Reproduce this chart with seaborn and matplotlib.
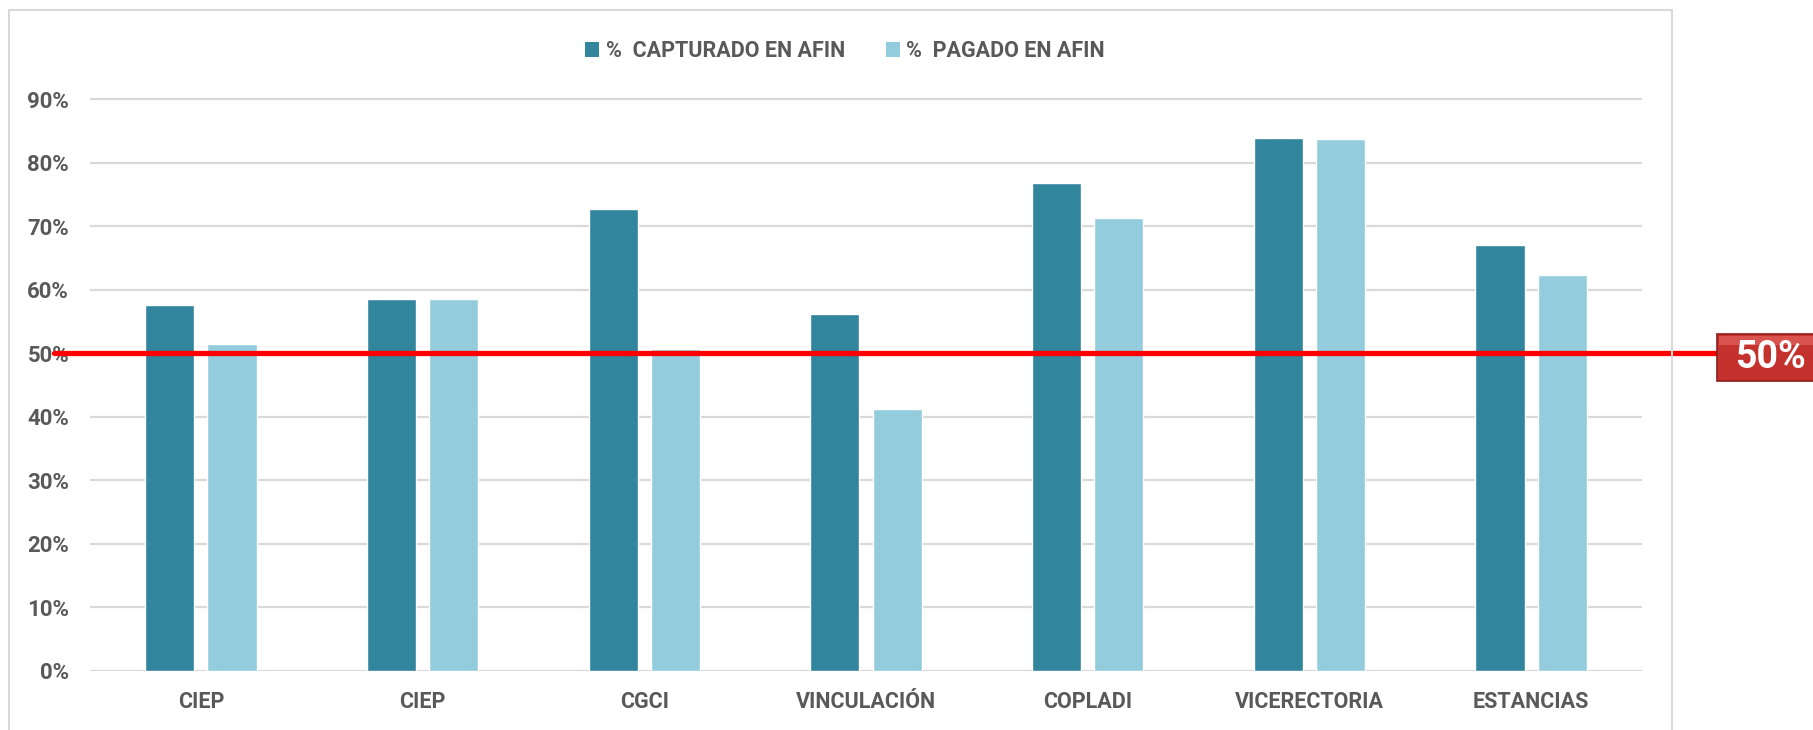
import numpy as np
import pandas as pd
import matplotlib
matplotlib.use('Agg')
import matplotlib.pyplot as plt
import seaborn as sns
from matplotlib.patches import Patch, Rectangle
from matplotlib.ticker import PercentFormatter

# data
areas = ['CIEP', 'CIEP', 'CGCI', 'VINCULACIÓN', 'COPLADI', 'VICERECTORIA', 'ESTANCIAS']
capturado = [0.576, 0.586, 0.727, 0.562, 0.768, 0.840, 0.671]
pagado = [0.514, 0.586, 0.506, 0.412, 0.714, 0.838, 0.623]
series = ['%  CAPTURADO EN AFIN', '%  PAGADO EN AFIN']
meta = 0.50
meta_label = '50%'

dark = '#31859C'
light = '#93CDDD'
grey = '#595959'

sns.set_style('white')
plt.rcParams['font.family'] = ['Roboto', 'DejaVu Sans']
plt.rcParams['font.weight'] = 'bold'

# long form table, positions used as keys because CIEP appears twice
df = pd.DataFrame({
    'pos': list(range(len(areas))) * 2,
    'valor': capturado + pagado,
    'serie': [series[0]] * len(areas) + [series[1]] * len(areas),
})

fig = plt.figure(figsize=(18.13, 7.3), dpi=100)
ax = fig.add_axes([90 / 1813, 59.4 / 730, 1552 / 1813, 574.3 / 730])

sns.barplot(data=df, x='pos', y='valor', hue='serie', hue_order=series,
            palette=[dark, light], width=0.561, gap=0.21, ax=ax,
            legend=False, errorbar=None, saturation=1)

ax.set_ylim(0, 0.905)
ax.set_xlim(-0.5, len(areas) - 0.5)
ax.set_yticks(np.arange(0, 0.91, 0.1))
ax.yaxis.set_major_formatter(PercentFormatter(1.0, decimals=0))
ax.set_xticks(range(len(areas)))
ax.set_xticklabels(areas)
ax.set_xlabel('')
ax.set_ylabel('')
ax.grid(axis='y', color='#D9D9D9', lw=1.6)
ax.set_axisbelow(True)
for s in ax.spines.values():
    s.set_visible(False)
ax.tick_params(axis='y', length=0, pad=15, labelsize=16, labelcolor=grey)
ax.tick_params(axis='x', length=0, pad=15, labelsize=15.5, labelcolor=grey)
for lab in ax.get_xticklabels() + ax.get_yticklabels():
    lab.set_fontweight('bold')

# 50% reference line, running past the plot area
ax.axhline(meta, xmin=-36 / 1552, xmax=1627 / 1552, color='#FF0000', lw=3.8,
           clip_on=False, zorder=5)

# label box on the right
fig.patches.append(Rectangle((1717 / 1813, (730 - 381) / 730), 100 / 1813, 47 / 730,
                             transform=fig.transFigure, facecolor='#C4322E',
                             edgecolor='#8E1C1A', lw=1.2, zorder=6))
fig.patches.append(Rectangle((1719 / 1813, (730 - 345) / 730), 96 / 1813, 9 / 730,
                             transform=fig.transFigure, facecolor='#D9534F',
                             edgecolor='none', zorder=6))
fig.text(1770 / 1813, (730 - 357) / 730, meta_label, color='white', fontsize=27,
         fontweight='bold', ha='center', va='center', zorder=7)

# chart frame
fig.patches.append(Rectangle((9 / 1813, -0.05), 1663 / 1813, (720 / 730) + 0.05,
                             transform=fig.transFigure, fill=False,
                             edgecolor='#D9D9D9', lw=1.5, zorder=0))

handles = [Patch(facecolor=dark, edgecolor='none'), Patch(facecolor=light, edgecolor='none')]
fig.legend(handles, series, loc='center', bbox_to_anchor=(845 / 1813, 679 / 730),
           ncol=2, frameon=False, labelcolor=grey,
           handlelength=0.65, handleheight=0.7, handletextpad=0.3, columnspacing=1.9,
           prop={'weight': 'bold', 'size': 15.5})

fig.savefig('out.png', dpi=100)
